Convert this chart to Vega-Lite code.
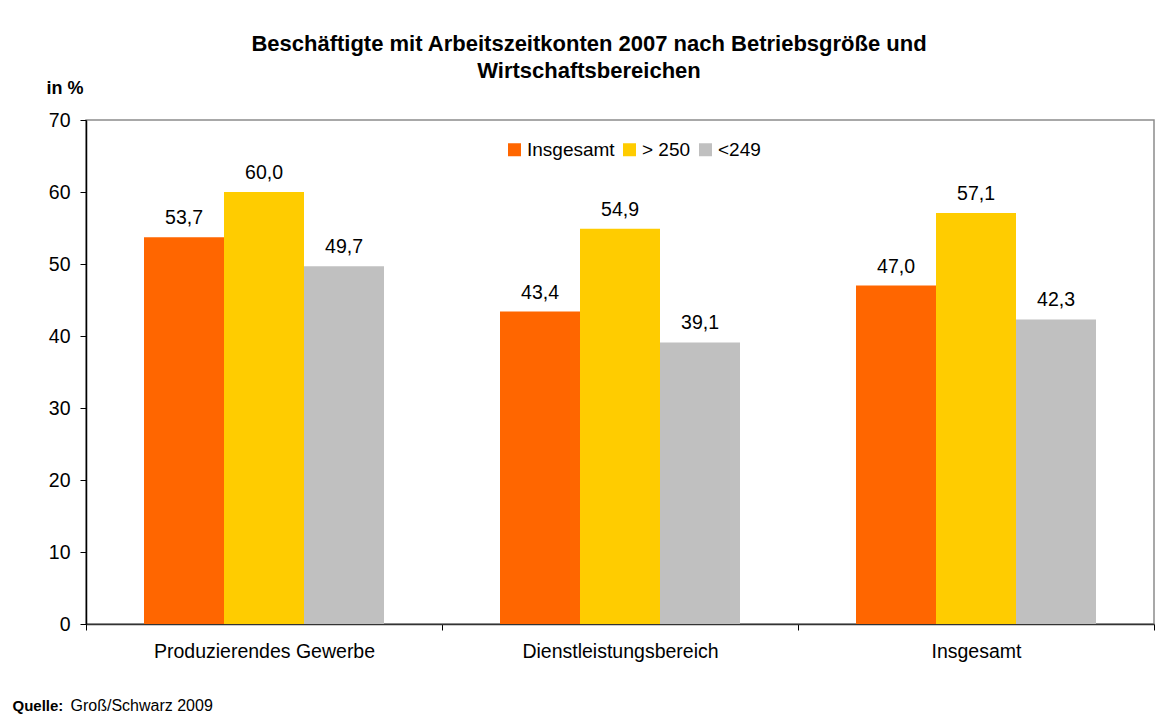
{
  "$schema": "https://vega.github.io/schema/vega-lite/v6.json",
  "autosize": {"type": "none"},
  "width": 1068,
  "height": 504,
  "padding": {"left": 86, "top": 120, "right": 4, "bottom": 93},
  "background": "white",
  "title": {
    "text": ["Beschäftigte mit Arbeitszeitkonten 2007 nach Betriebsgröße und", "Wirtschaftsbereichen"],
    "font": "Liberation Sans",
    "fontSize": 22,
    "fontWeight": "bold",
    "color": "black",
    "anchor": "middle",
    "dx": -31,
    "offset": -4,
    "lineHeight": 27
  },
  "config": {
    "locale": {"number": {"decimal": ",", "thousands": ".", "grouping": [3], "currency": ["", " €"]}},
    "font": "Liberation Sans",
    "view": {"stroke": "#8c8c8c", "strokeWidth": 1.5},
    "axis": {"grid": false}
  },
  "data": {
    "values": [
      {"bereich": "Produzierendes Gewerbe", "gruppe": "Insgesamt", "wert": 53.7},
      {"bereich": "Produzierendes Gewerbe", "gruppe": "> 250", "wert": 60.0},
      {"bereich": "Produzierendes Gewerbe", "gruppe": "<249", "wert": 49.7},
      {"bereich": "Dienstleistungsbereich", "gruppe": "Insgesamt", "wert": 43.4},
      {"bereich": "Dienstleistungsbereich", "gruppe": "> 250", "wert": 54.9},
      {"bereich": "Dienstleistungsbereich", "gruppe": "<249", "wert": 39.1},
      {"bereich": "Insgesamt", "gruppe": "Insgesamt", "wert": 47.0},
      {"bereich": "Insgesamt", "gruppe": "> 250", "wert": 57.1},
      {"bereich": "Insgesamt", "gruppe": "<249", "wert": 42.3}
    ]
  },
  "encoding": {
    "x": {
      "field": "bereich",
      "type": "nominal",
      "sort": ["Produzierendes Gewerbe", "Dienstleistungsbereich", "Insgesamt"],
      "scale": {"paddingInner": 0, "paddingOuter": 0}
    },
    "xOffset": {
      "field": "gruppe",
      "type": "nominal",
      "sort": ["Insgesamt", "> 250", "<249"],
      "scale": {"paddingInner": 0, "paddingOuter": 0.725}
    },
    "y": {
      "field": "wert",
      "type": "quantitative",
      "scale": {"domain": [0, 70], "nice": false},
      "axis": {
        "values": [0, 10, 20, 30, 40, 50, 60, 70],
        "title": "in %",
        "titleAngle": 0,
        "titleAlign": "left",
        "titleBaseline": "middle",
        "titleX": -40,
        "titleY": -32,
        "titleFont": "Liberation Sans",
        "titleFontSize": 18,
        "titleFontWeight": "bold",
        "titleColor": "black",
        "labelFont": "Liberation Sans",
        "labelFontSize": 19.5,
        "labelColor": "black",
        "labelPadding": 10,
        "tickSize": 6,
        "tickColor": "black",
        "domainColor": "black",
        "domainWidth": 1.5
      }
    }
  },
  "resolve": {"axis": {"x": "independent"}},
  "layer": [
    {
      "mark": {"type": "bar"},
      "encoding": {
        "x": {
          "field": "bereich",
          "type": "nominal",
          "sort": ["Produzierendes Gewerbe", "Dienstleistungsbereich", "Insgesamt"],
          "scale": {"paddingInner": 0, "paddingOuter": 0},
          "axis": {
            "orient": "bottom",
            "labelAngle": 0,
            "labelLimit": 0,
            "labelFont": "Liberation Sans",
            "labelFontSize": 19.5,
            "labelColor": "black",
            "labelPadding": 12,
            "tickBand": "extent",
            "tickSize": 6,
            "tickColor": "black",
            "domainColor": "#333333",
            "domainWidth": 1.5,
            "title": "Quelle:",
            "titleFont": "Liberation Sans",
            "titleFontSize": 15,
            "titleFontWeight": "bold",
            "titleColor": "black",
            "titleAlign": "left",
            "titleBaseline": "middle",
            "titleAnchor": "start",
            "titleX": -74,
            "titleY": 81
          }
        },
        "color": {
          "field": "gruppe",
          "type": "nominal",
          "sort": ["Insgesamt", "> 250", "<249"],
          "scale": {"domain": ["Insgesamt", "> 250", "<249"], "range": ["#ff6600", "#ffcc00", "#c0c0c0"]},
          "legend": {
            "title": null,
            "orient": "none",
            "direction": "horizontal",
            "legendX": 419,
            "legendY": 20,
            "symbolType": "square",
            "symbolSize": 169,
            "symbolStrokeWidth": 0,
            "symbolOpacity": 1,
            "labelFont": "Liberation Sans",
            "labelFontSize": 19,
            "labelColor": "black",
            "labelOffset": 3,
            "columnPadding": 5,
            "padding": 0
          }
        }
      }
    },
    {
      "mark": {"type": "text", "baseline": "bottom", "dy": -9, "fontSize": 19.5, "font": "Liberation Sans", "color": "black"},
      "encoding": {
        "x": {
          "field": "bereich",
          "type": "nominal",
          "sort": ["Produzierendes Gewerbe", "Dienstleistungsbereich", "Insgesamt"],
          "axis": {
            "orient": "top",
            "labels": false,
            "ticks": false,
            "domain": false,
            "title": "Groß/Schwarz 2009",
            "titleFont": "Liberation Sans",
            "titleFontSize": 16,
            "titleFontWeight": "normal",
            "titleColor": "black",
            "titleAlign": "left",
            "titleBaseline": "middle",
            "titleAnchor": "start",
            "titleX": -16,
            "titleY": 585
          }
        },
        "text": {"field": "wert", "type": "quantitative", "format": ".1f"}
      }
    }
  ]
}
